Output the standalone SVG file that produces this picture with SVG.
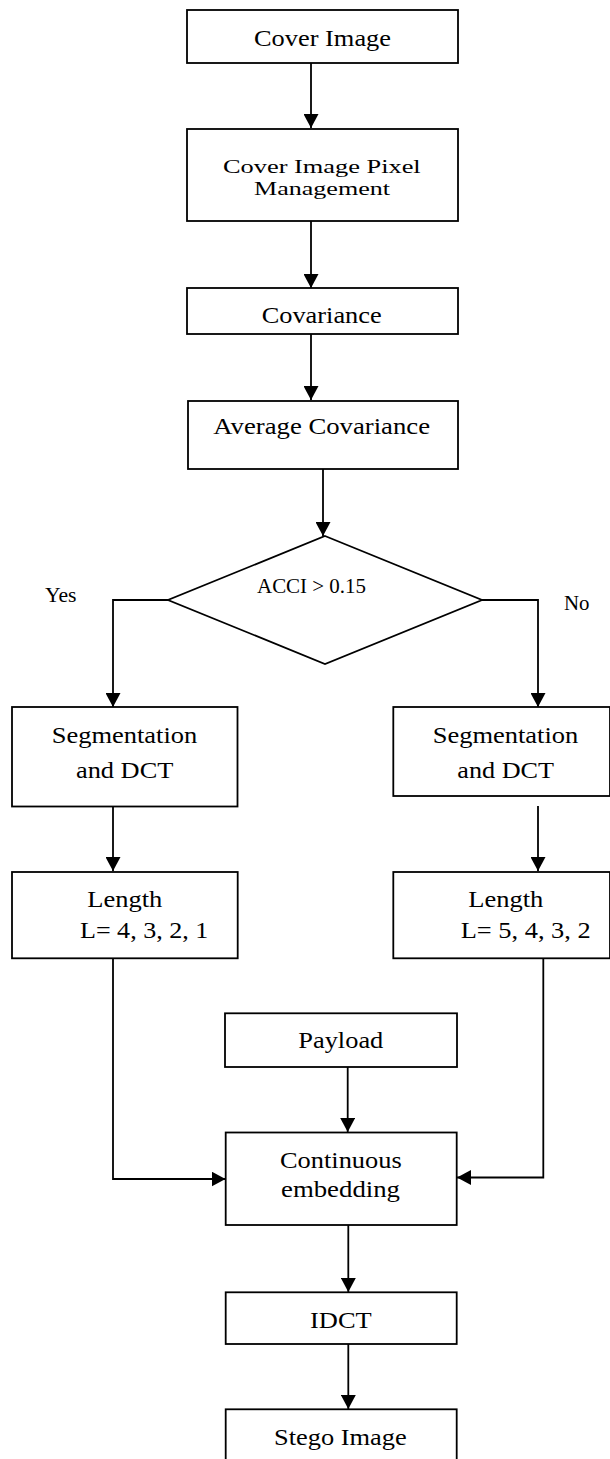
<svg xmlns="http://www.w3.org/2000/svg" width="610" height="1459" viewBox="0 0 610 1459">
<style>
.box{fill:#fff;stroke:#000;stroke-width:1.8}
.t{font-family:"Liberation Serif","Times New Roman",Times,serif;font-size:23px;fill:#000}
.m{font-family:"Liberation Serif","Times New Roman",Times,serif;font-size:19px;fill:#000}
.s{font-family:"Liberation Serif","Times New Roman",Times,serif;font-size:20px;fill:#000}
.c{fill:none;stroke:#000;stroke-width:1.8}
</style>
<defs>
<marker id="ah" markerUnits="userSpaceOnUse" markerWidth="15" markerHeight="15" refX="14" refY="7.5" orient="auto">
<path d="M0,0 L14,7.5 L0,15 Z" fill="#000"/>
</marker>
</defs>
<rect width="610" height="1459" fill="#fff"/>
<g id="connectors">
<path class="c" d="M311,63 V128" marker-end="url(#ah)"/>
<path class="c" d="M311,221 V288" marker-end="url(#ah)"/>
<path class="c" d="M311,334 V400" marker-end="url(#ah)"/>
<path class="c" d="M323,469 V536" marker-end="url(#ah)"/>
<path class="c" d="M168,600 H113 V707" marker-end="url(#ah)"/>
<path class="c" d="M482,600 H538 V707" marker-end="url(#ah)"/>
<path class="c" d="M113,807 V871" marker-end="url(#ah)"/>
<path class="c" d="M538,806 V871" marker-end="url(#ah)"/>
<path class="c" d="M113,958 V1179 H225.5" marker-end="url(#ah)"/>
<path class="c" d="M543.3,958 V1177.5 H457" marker-end="url(#ah)"/>
<path class="c" d="M347.7,1067 V1132" marker-end="url(#ah)"/>
<path class="c" d="M348.3,1225 V1292" marker-end="url(#ah)"/>
<path class="c" d="M348.3,1344 V1409" marker-end="url(#ah)"/>
</g>
<g id="cover">
<rect class="box" x="187" y="10" width="271" height="53"/>
<text class="t" x="254" y="46" textLength="137" lengthAdjust="spacingAndGlyphs">Cover Image</text>
</g>
<g id="pixel">
<rect class="box" x="187" y="129" width="271" height="92"/>
<text class="m" x="223" y="173" textLength="197.7" lengthAdjust="spacingAndGlyphs">Cover Image Pixel</text>
<text class="m" x="254" y="194.5" textLength="136" lengthAdjust="spacingAndGlyphs">Management</text>
</g>
<g id="covariance">
<rect class="box" x="187" y="288" width="271" height="46"/>
<text class="t" x="261.7" y="322.7" textLength="120" lengthAdjust="spacingAndGlyphs">Covariance</text>
</g>
<g id="avgcov">
<rect class="box" x="188" y="401" width="270" height="68"/>
<text class="t" x="213.3" y="434" textLength="216.7" lengthAdjust="spacingAndGlyphs">Average Covariance</text>
</g>
<g id="decision">
<polygon class="box" points="325,536 482,600 325,664 168,600"/>
<text class="s" x="257" y="593" textLength="109" lengthAdjust="spacingAndGlyphs">ACCI &gt; 0.15</text>
</g>
<g id="labels">
<text class="s" x="45" y="601.7" textLength="31.5" lengthAdjust="spacingAndGlyphs">Yes</text>
<text class="s" x="564" y="610" textLength="25.5" lengthAdjust="spacingAndGlyphs">No</text>
</g>
<g id="segL">
<rect class="box" x="12" y="707" width="225.5" height="99.5"/>
<text class="t" x="51.7" y="743.3" textLength="145.6" lengthAdjust="spacingAndGlyphs">Segmentation</text>
<text class="t" x="76" y="777.7" textLength="97.3" lengthAdjust="spacingAndGlyphs">and DCT</text>
</g>
<g id="segR">
<rect class="box" x="393.3" y="707" width="216.7" height="89"/>
<text class="t" x="432.7" y="743.3" textLength="145.6" lengthAdjust="spacingAndGlyphs">Segmentation</text>
<text class="t" x="457.3" y="777.7" textLength="96.7" lengthAdjust="spacingAndGlyphs">and DCT</text>
</g>
<g id="lenL">
<rect class="box" x="12" y="872" width="225.7" height="86.3"/>
<text class="t" x="87.3" y="906.7" textLength="75" lengthAdjust="spacingAndGlyphs">Length</text>
<text class="t" x="80" y="938.3" textLength="128.3" lengthAdjust="spacingAndGlyphs">L= 4, 3, 2, 1</text>
</g>
<g id="lenR">
<rect class="box" x="393.3" y="872" width="216.7" height="86.3"/>
<text class="t" x="468.3" y="906.7" textLength="75" lengthAdjust="spacingAndGlyphs">Length</text>
<text class="t" x="460.7" y="938.3" textLength="130" lengthAdjust="spacingAndGlyphs">L= 5, 4, 3, 2</text>
</g>
<g id="payload">
<rect class="box" x="225" y="1013.3" width="232" height="53.7"/>
<text class="t" x="298.3" y="1048.3" textLength="85" lengthAdjust="spacingAndGlyphs">Payload</text>
</g>
<g id="embedding">
<rect class="box" x="225.7" y="1132.5" width="231" height="92.5"/>
<text class="t" x="280" y="1168.3" textLength="121.7" lengthAdjust="spacingAndGlyphs">Continuous</text>
<text class="t" x="281" y="1197.3" textLength="119" lengthAdjust="spacingAndGlyphs">embedding</text>
</g>
<g id="idct">
<rect class="box" x="225.7" y="1292.3" width="231" height="51.7"/>
<text class="t" x="310" y="1328.3" textLength="61.7" lengthAdjust="spacingAndGlyphs">IDCT</text>
</g>
<g id="stego">
<rect class="box" x="225.7" y="1409.3" width="231" height="60"/>
<text class="t" x="274" y="1445" textLength="132.7" lengthAdjust="spacingAndGlyphs">Stego Image</text>
</g>
</svg>
